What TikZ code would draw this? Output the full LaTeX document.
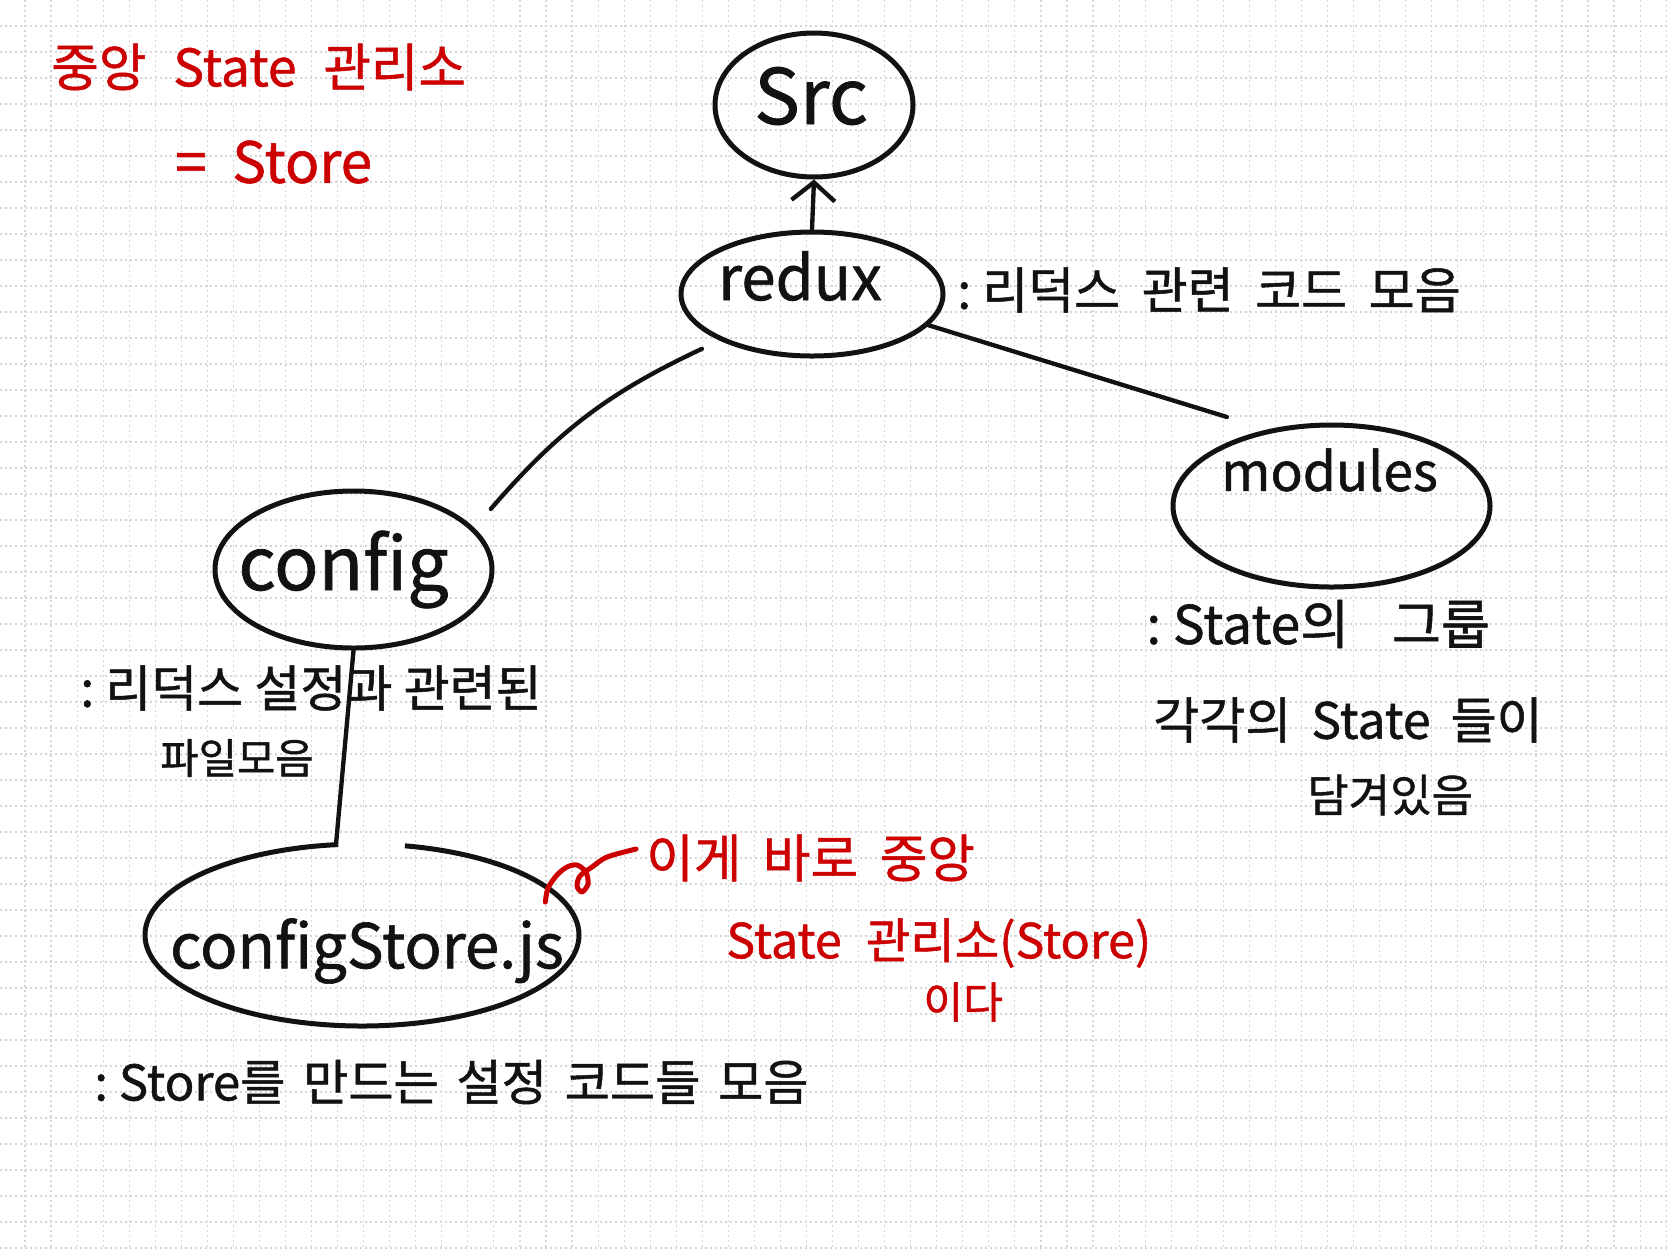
\documentclass[tikz,border=0pt]{standalone}
\usepackage{fontspec}
\setmainfont{Noto Sans CJK KR}[FakeBold=1]
\usetikzlibrary{shapes.geometric,arrows.meta,calc}
\definecolor{pen}{RGB}{18,18,18}
\definecolor{redpen}{RGB}{204,0,0}
\definecolor{gridc}{RGB}{214,214,214}
\newcommand{\wide}[1]{\spaceskip=#1em\relax}
\newcommand{\colsp}{\hspace{0.22em}}
\begin{document}
\begin{tikzpicture}[x=0.6pt,y=-0.6pt,
  blob/.style={ellipse, draw=pen, line width=3pt, inner sep=0pt},
  conn/.style={draw=pen, line width=2.6pt, line cap=round},
  redconn/.style={draw=redpen, line width=3pt, line cap=round, line join=round},
  lbl/.style={inner sep=0pt, text=pen},
  ann/.style={anchor=west, inner sep=0pt, text=pen, font=\fontsize{30}{36}\selectfont},
  redtxt/.style={anchor=west, inner sep=0pt, text=redpen, font=\fontsize{31}{36}\selectfont},
  gridline/.style={draw=gridc, line width=0.7pt, dash pattern=on 1.4pt off 1.6pt}
]
\path[fill=white, use as bounding box] (0,0) rectangle (1667,1250);
\foreach \i in {0,...,63} \draw[gridline] ({25+26.05*\i},0) -- ({25+26.05*\i},1250);
\foreach \j in {1,...,48} \draw[gridline] (0,{26*\j}) -- (1667,{26*\j});

% red title
\node[redtxt, font=\fontsize{31}{36}\selectfont\wide{0.52}] (title1) at (51,67) {중앙 State 관리소};
\node[redtxt, font=\fontsize{34}{38}\selectfont\wide{0.45}] (title2) at (175,162) {= Store};

% tree nodes
\node[blob, minimum width=118.8pt, minimum height=86.4pt,
  label={[lbl, font=\fontsize{46}{50}\selectfont, shift={(-3,-9)}]center:Src}] (src) at (814,105) {};
\node[blob, minimum width=157.2pt, minimum height=74.4pt,
  label={[lbl, font=\fontsize{37}{40}\selectfont, shift={(-12,-18)}]center:redux}] (redux) at (812,294) {};
\node[blob, minimum width=166.2pt, minimum height=94.2pt,
  label={[lbl, font=\fontsize{44}{48}\selectfont, shift={(-10,0)}]center:config}] (config) at (353.5,569.5) {};
\node[blob, minimum width=190.2pt, minimum height=97.2pt,
  label={[lbl, font=\fontsize{32}{36}\selectfont, shift={(-2,-36)}]center:modules}] (modules) at (1331.5,506) {};
\node[ellipse, inner sep=0pt, minimum width=260.4pt, minimum height=109.2pt,
  label={[lbl, font=\fontsize{37}{40}\selectfont, shift={(5,16)}]center:configStore.js}] (configStore) at (362,935) {};
\draw[pen, line width=3pt] plot[domain=96.3:438.6, samples=140, smooth] ({362+217*cos(\x)}, {935-91*sin(\x)});

% annotations
\node[ann, font=\fontsize{30}{36}\selectfont\wide{0.43}] (reduxnote) at (957,290) {:\colsp{}리덕스 관련 코드 모음};
\node[ann] (confignote1) at (80,688) {:\colsp{}리덕스 설정과 관련된};
\node[ann, font=\fontsize{25}{30}\selectfont] (confignote2) at (160,758) {파일모음};
\node[ann, font=\fontsize{32}{36}\selectfont\wide{0.8}] (modnote1) at (1146,624) {:\colsp{}State의 그룹};
\node[ann, font=\fontsize{30}{36}\selectfont\wide{0.4}] (modnote2) at (1153,720) {각각의 State 들이};
\node[ann, font=\fontsize{27}{32}\selectfont] (modnote3) at (1307,795) {담겨있음};
\node[ann, font=\fontsize{29.5}{36}\selectfont\wide{0.36}] (storenote) at (94,1082) {:\colsp{}Store를 만드는 설정 코드들 모음};

% red note
\node[redtxt, font=\fontsize{31}{36}\selectfont\wide{0.42}] (note1) at (646,858) {이게 바로 중앙};
\node[redtxt, font=\fontsize{29}{36}\selectfont\wide{0.5}] (note2) at (726,943) {State 관리소(Store)};
\node[redtxt, font=\fontsize{26}{30}\selectfont] (note3) at (923,1002) {이다};

% connectors
\draw[conn, -{Straight Barb[length=11pt, width=26pt]}] (redux.north) -- (src.south);
\draw[conn] ($(redux.205)+(-14,10)$) to[bend right=12] ($(config.22)+(22,-14)$);
\draw[conn] (redux.345) -- ($(modules.140)+(-20,-18)$);
\draw[conn] (config.south) -- (configStore.106);

\coordinate (sq0) at ($(configStore.east)+(-34,-33)$);
\coordinate (sq1) at ($(note1.west)+(-10,-9)$);
\draw[redconn] plot[smooth, tension=0.5] coordinates {(sq0) (548,888) (557,875) (567,867) (577,865) (586,872) (588,884) (582,892) (577,886) (580,876) (592,867) (607,857) (sq1)};
\end{tikzpicture}
\end{document}
